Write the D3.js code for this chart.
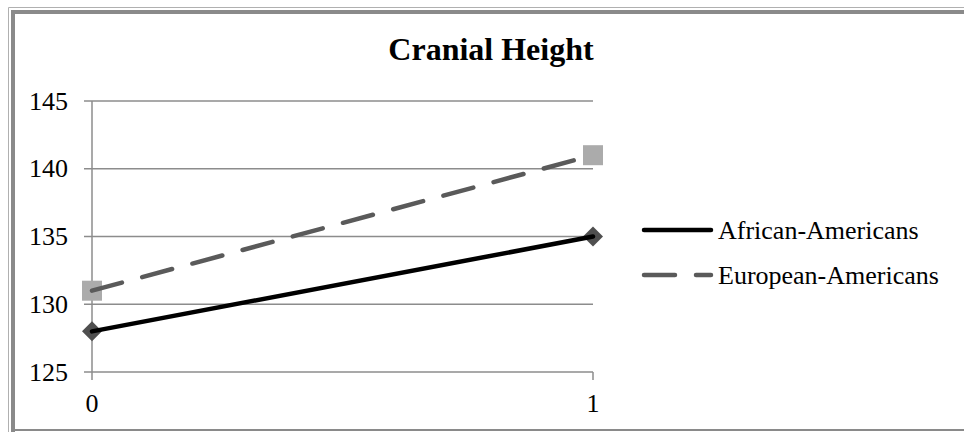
<!DOCTYPE html>
<html>
<head>
<meta charset="utf-8">
<script src="https://cdn.jsdelivr.net/npm/d3@7"></script>
<style>
  html, body { margin: 0; padding: 0; background: #fff; }
  svg { display: block; }
  text { font-family: "Liberation Serif", "Times New Roman", serif; fill: #000; }
</style>
</head>
<body>
<svg id="chart" width="964" height="432"></svg>
<script>
const title = "Cranial Height";
const categories = [0, 1];
const seriesNames = ["African-Americans", "European-Americans"];
const africanValues = [128, 135];
const europeanValues = [131, 141];
const yTicks = [125, 130, 135, 140, 145];
const xTickLabels = ["0", "1"];

const svg = d3.select("#chart");
const W = 964, H = 432;

// frame
svg.append("path").attr("d", `M8.5,${H} V7.5 H${W}`).attr("fill", "none").attr("stroke", "#b0b0b0").attr("stroke-width", 1);
svg.append("path").attr("d", `M13,${H} V12 H${W}`).attr("fill", "none").attr("stroke", "#8a8a8a").attr("stroke-width", 4);
svg.append("line").attr("x1", 15).attr("x2", W).attr("y1", 430).attr("y2", 430).attr("stroke", "#8a8a8a").attr("stroke-width", 2);

const x = d3.scaleLinear().domain([0, 1]).range([92, 593]);
const y = d3.scaleLinear().domain([125, 145]).range([372, 101]);

// gridlines
const grid = svg.append("g");
grid.selectAll("line").data(yTicks).enter().append("line")
  .attr("x1", 84).attr("x2", x(1))
  .attr("y1", d => y(d)).attr("y2", d => y(d))
  .attr("stroke", "#8c8c8c").attr("stroke-width", 1.5);

// y axis line
svg.append("line").attr("x1", x(0)).attr("x2", x(0)).attr("y1", y(145)).attr("y2", 380)
  .attr("stroke", "#8c8c8c").attr("stroke-width", 1.5);
// x tick at 1
svg.append("line").attr("x1", x(1)).attr("x2", x(1)).attr("y1", y(125)).attr("y2", 380)
  .attr("stroke", "#8c8c8c").attr("stroke-width", 1.5);

// y tick labels
svg.append("g").selectAll("text").data(yTicks).enter().append("text")
  .attr("x", 68).attr("y", d => y(d)).attr("dy", "0.33em")
  .attr("text-anchor", "end").attr("font-size", 26)
  .text(d => d);

// x tick labels
svg.append("g").selectAll("text").data(categories).enter().append("text")
  .attr("x", d => x(d)).attr("y", 412)
  .attr("text-anchor", "middle").attr("font-size", 26)
  .text((d, i) => xTickLabels[i]);

// title
svg.append("text").attr("x", 491).attr("y", 60).attr("text-anchor", "middle")
  .attr("font-size", 32).attr("font-weight", "bold").text(title);

const line = d3.line().x((d, i) => x(categories[i])).y(d => y(d));

// markers
const symDiamond = d3.symbol().type(d3.symbolDiamond2 || d3.symbolDiamond).size(200);
svg.append("g").selectAll("path").data(africanValues).enter().append("path")
  .attr("transform", (d, i) => `translate(${x(categories[i])},${y(d)}) rotate(0)`)
  .attr("d", d3.symbol().type(d3.symbolSquare).size(200)())
  .attr("transform", (d, i) => `translate(${x(categories[i])},${y(d)}) rotate(45)`)
  .attr("fill", "#4f4f4f");
svg.append("g").selectAll("rect").data(europeanValues).enter().append("rect")
  .attr("x", (d, i) => x(categories[i]) - 10).attr("y", d => y(d) - 10)
  .attr("width", 20).attr("height", 20).attr("fill", "#ababab");

// lines
svg.append("path").datum(africanValues).attr("d", line)
  .attr("fill", "none").attr("stroke", "#000").attr("stroke-width", 4.5).attr("stroke-linecap", "round");
svg.append("path").datum(europeanValues).attr("d", line)
  .attr("fill", "none").attr("stroke", "#5a5a5a").attr("stroke-width", 4.5)
  .attr("stroke-dasharray", "31,21").attr("stroke-linecap", "round");

// legend
const legend = svg.append("g");
const legendY = [230, 275];
const legendStyles = [
  { stroke: "#000", dash: null },
  { stroke: "#5a5a5a", dash: "31,21" }
];
seriesNames.forEach((name, i) => {
  legend.append("line").attr("x1", 644).attr("x2", 711)
    .attr("y1", legendY[i]).attr("y2", legendY[i])
    .attr("stroke", legendStyles[i].stroke).attr("stroke-width", 4.5)
    .attr("stroke-linecap", "round")
    .attr("stroke-dasharray", legendStyles[i].dash);
  legend.append("text").attr("x", 718).attr("y", legendY[i] + 9)
    .attr("font-size", 26).text(name);
});
</script>
</body>
</html>
